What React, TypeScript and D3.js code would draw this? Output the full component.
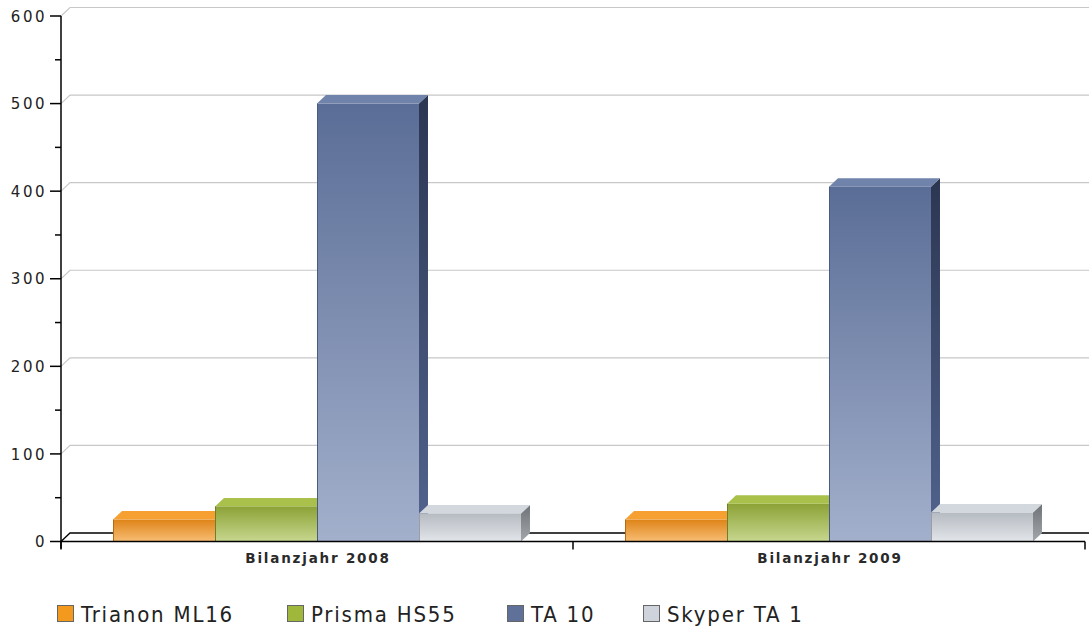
import React from "react";
import * as d3 from "d3";

const categories = ["Bilanzjahr 2008", "Bilanzjahr 2009"];
const seriesNames = ["Trianon ML16", "Prisma HS55", "TA 10", "Skyper TA 1"];
const trianon = [25, 25];
const prisma = [40, 43];
const ta10 = [500, 405];
const skyper = [32, 33];
const yTicks = [0, 100, 200, 300, 400, 500, 600];
const yMinorTicks = [50, 150, 250, 350, 450, 550];

const seriesValues = [trianon, prisma, ta10, skyper];

const palette = [
  { front0: "#de8418", front1: "#f8bd74", top: "#f7a032", side0: "#b86a10", side1: "#e09a50", edge: "#b56a12" },
  { front0: "#8ca236", front1: "#c7d78f", top: "#a9c14a", side0: "#6b7d26", side1: "#98ad55", edge: "#6e7f2a" },
  { front0: "#5a6d96", front1: "#a3b0cc", top: "#7083ab", side0: "#2b3651", side1: "#52648f", edge: "#4a5b82" },
  { front0: "#b6bbc2", front1: "#e2e5e9", top: "#d3d7de", side0: "#6f7377", side1: "#a3a7ab", edge: "#9a9ea4" },
];
const legendColors = ["#f39a1e", "#9fb83c", "#5f7199", "#cfd4dc"];

const W = 1089;
const H = 630;
const left = 61;
const right = 1085;
const DX = 9;
const DY = -8.5;

export default function App() {
  const y = d3.scaleLinear().domain([0, 600]).range([541.5, 16]);
  const x0 = d3.scaleBand<string>().domain(categories).range([left, right]).padding(0);
  const x1 = d3
    .scaleBand<string>()
    .domain(seriesNames)
    .range([0, x0.bandwidth()])
    .paddingInner(0)
    .paddingOuter(0.51);
  const y0 = y(0);
  const font = "'DejaVu Sans', Verdana, sans-serif";

  const bars: JSX.Element[] = [];
  categories.forEach((c, ci) => {
    seriesNames.forEach((s, si) => {
      const v = seriesValues[si][ci];
      const bx = (x0(c) as number) + (x1(s) as number);
      const bw = x1.bandwidth();
      const by = y(v);
      const p = palette[si];
      bars.push(
        <g key={`${ci}-${si}`}>
          <path
            d={`M${bx + bw},${by} L${bx + bw + DX},${by + DY} L${bx + bw + DX},${y0 + DY} L${bx + bw},${y0} Z`}
            fill={`url(#side${si})`}
          />
          <path
            d={`M${bx},${by} L${bx + DX},${by + DY} L${bx + bw + DX},${by + DY} L${bx + bw},${by} Z`}
            fill={p.top}
          />
          <rect x={bx} y={by} width={bw} height={y0 - by} fill={`url(#front${si})`} />
          <line x1={bx + 0.5} x2={bx + 0.5} y1={by} y2={y0} stroke={p.edge} strokeWidth={1} />
        </g>
      );
    });
  });

  return (
    <svg
      width={W}
      height={H}
      style={{ position: "absolute", left: 0, top: 0, background: "#fff" }}
    >
      <defs>
        {palette.map((p, i) => (
          <React.Fragment key={i}>
            <linearGradient id={`front${i}`} x1="0" y1="0" x2="0" y2="1">
              <stop offset="0" stopColor={p.front0} />
              <stop offset="1" stopColor={p.front1} />
            </linearGradient>
            <linearGradient id={`side${i}`} x1="0" y1="0" x2="0" y2="1">
              <stop offset="0" stopColor={p.side0} />
              <stop offset="1" stopColor={p.side1} />
            </linearGradient>
          </React.Fragment>
        ))}
      </defs>

      {/* grid lines */}
      {yTicks.map((t) => (
        <path
          key={`g${t}`}
          d={`M${left},${y(t)} L${left + DX},${y(t) + DY} L${W},${y(t) + DY}`}
          fill="none"
          stroke={t === 0 ? "#000" : "#c8c8c8"}
          strokeWidth={t === 0 ? 1.3 : 1.2}
        />
      ))}

      {bars}

      {/* y axis */}
      <line x1={left} x2={left} y1={y(600)} y2={y0 + 7} stroke="#000" strokeWidth={1.5} />
      {yTicks.map((t) => (
        <g key={`yt${t}`}>
          <line x1={left - 11} x2={left} y1={y(t)} y2={y(t)} stroke="#000" strokeWidth={1.5} />
          <text
            x={left - 14}
            y={y(t)}
            dy="0.38em"
            textAnchor="end"
            fontFamily={font}
            fontSize={15}
            letterSpacing={2.5}
            fill="#222"
          >
            {t}
          </text>
        </g>
      ))}
      {yMinorTicks.map((t) => (
        <line key={`ym${t}`} x1={left - 6} x2={left} y1={y(t)} y2={y(t)} stroke="#000" strokeWidth={1.5} />
      ))}

      {/* x axis */}
      <line x1={left} x2={right} y1={y0} y2={y0} stroke="#000" strokeWidth={1.5} />
      {[...categories.map((c) => x0(c) as number), right].map((tx, i) => (
        <line key={`xt${i}`} x1={tx} x2={tx} y1={y0} y2={y0 + 8} stroke="#000" strokeWidth={1.5} />
      ))}
      {categories.map((c) => (
        <text
          key={`xl${c}`}
          x={(x0(c) as number) + x0.bandwidth() / 2 + 1}
          y={563}
          textAnchor="middle"
          fontFamily={font}
          fontSize={13.5}
          fontWeight="bold"
          letterSpacing={1.8}
          fill="#2a2a2a"
        >
          {c}
        </text>
      ))}

      {/* legend */}
      {seriesNames.map((s, i) => {
        const lx = [57, 287, 507, 643][i];
        return (
          <g key={`lg${s}`}>
            <rect x={lx + 0.5} y={605.5} width={16} height={16} fill={legendColors[i]} stroke="#666" strokeWidth={1} />
            <text
              x={lx + 24}
              y={622}
              fontFamily="'DejaVu Sans Condensed', 'DejaVu Sans', sans-serif"
              fontSize={22}
              letterSpacing={1.8}
              fill="#222"
            >
              {s}
            </text>
          </g>
        );
      })}
    </svg>
  );
}
